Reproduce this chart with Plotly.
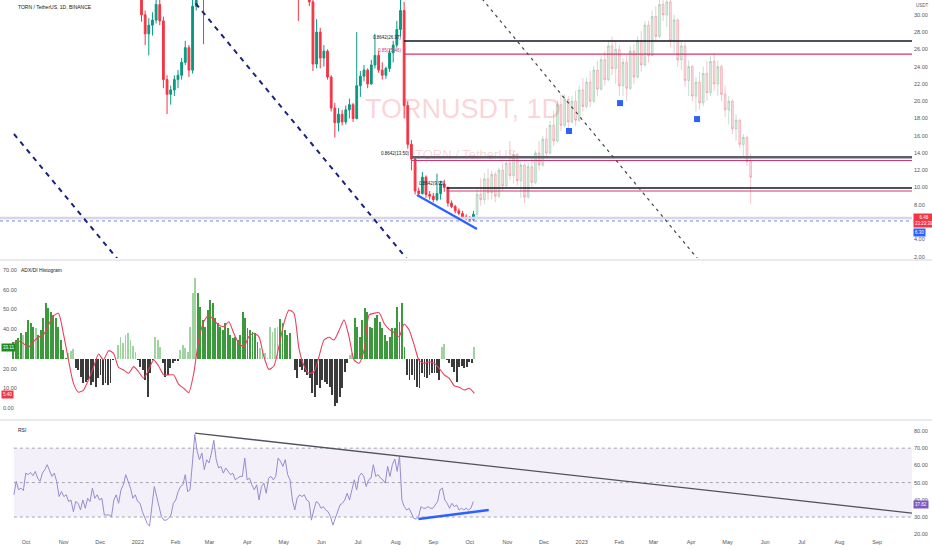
import pandas as pd
import plotly.graph_objects as go

# ---------------- DATA ----------------
# Daily chart shown as 3-day candles
CANDLE_START = "2021-09-21"
CANDLE_STEP = "3D"
OPEN = [43, 44, 47, 49, 48, 52, 55, 54, 57, 56,
        59, 61, 58, 60, 57, 55, 53, 54, 51, 49,
        50, 47, 48, 45, 46, 44, 41, 42, 44, 46,
        43, 42, 40, 38, 36,
        34.5, 30.0, 27.8, 28.8, 29.4, 31.2, 29.3, 22.5, 20.8, 21.3,
        22.5, 23.0, 24.5, 26.2, 23.6, 31.0, 35.0, 34.0,
        33.5, 36, 38, 40, 39, 41, 40, 42, 41, 39,
        40, 42, 41, 40, 38, 39, 40, 38, 39, 41,
        43, 42, 40, 38, 36,
        35.0, 33.5, 34.0, 33.0, 31.5, 24.3, 28.0, 25.0, 25.8, 22.8,
        19.2, 17.5, 18.5, 17.6, 19.0, 19.6, 18.0, 21.8, 22.9, 23.6,
        22.0, 24.2, 25.3, 23.6, 23.0, 23.8, 25.6, 26.5, 28.3, 30.5,
        19.5, 15.0, 13.3, 9.6, 9.3, 11.2, 9.2, 9.0, 8.6, 9.3,
        10.4, 10.0, 8.2, 7.8, 7.3, 7.0, 6.6, 6.5, 6.3]
HIGH = [45.5, 48.5, 50.5, 50.5, 53.5, 56.5, 56.5, 58.5, 58.5, 60.5,
        62.5, 62.5, 61.5, 61.5, 58.5, 56.5, 55.5, 55.5, 52.5, 51.5,
        51.5, 49.5, 49.5, 47.5, 47.5, 45.5, 43.5, 45.5, 47.5, 47.5,
        44.5, 43.5, 41.5, 39.5, 37.5,
        35.0, 30.5, 29.6, 30.3, 32.0, 32.5, 29.8, 23.0, 21.8, 23.0,
        23.6, 25.0, 27.0, 26.5, 32.0, 36.0, 37.0, 35.0,
        37.5, 39.5, 41.5, 41.5, 42.5, 42.5, 43.5, 43.5, 42.5, 41.5,
        43.5, 43.5, 42.5, 41.5, 40.5, 41.5, 41.5, 40.5, 42.5, 44.5,
        44.5, 43.5, 41.5, 39.5, 37.5,
        36.0, 35.0, 35.0, 33.5, 32.0, 29.5, 28.5, 26.5, 26.0, 23.0,
        19.8, 19.2, 19.0, 19.5, 20.3, 19.8, 28.0, 23.5, 24.2, 23.8,
        24.8, 27.8, 25.8, 24.5, 24.0, 26.0, 27.0, 29.3, 32.0, 31.5,
        20.0, 15.5, 13.6, 10.0, 11.8, 11.4, 9.6, 9.4, 11.6, 10.8,
        10.9, 10.1, 8.5, 8.0, 7.6, 7.3, 6.9, 6.7, 7.3]
LOW = [41.5, 42.5, 45.5, 46.5, 46.5, 50.5, 52.5, 52.5, 54.5, 54.5,
       57.5, 56.5, 56.5, 55.5, 53.5, 51.5, 51.5, 49.5, 47.5, 47.5,
       45.5, 45.5, 43.5, 43.5, 42.5, 39.5, 39.5, 40.5, 42.5, 41.5,
       40.5, 38.5, 36.5, 34.5, 33.0,
       29.2, 26.5, 25.3, 27.6, 29.0, 28.8, 21.5, 18.5, 19.6, 20.6,
       21.5, 22.5, 24.2, 22.8, 23.2, 30.5, 33.0, 26.6,
       32.5, 34.5, 36.5, 37.5, 37.5, 38.5, 38.5, 39.5, 37.5, 37.5,
       38.5, 39.5, 38.5, 36.5, 36.5, 37.5, 36.5, 36.5, 37.5, 39.5,
       40.5, 38.5, 36.5, 34.5, 33.5,
       29.3, 32.0, 32.5, 31.0, 23.5, 23.8, 23.8, 24.0, 22.5, 18.8,
       15.8, 16.5, 17.2, 17.3, 18.0, 17.6, 17.9, 20.5, 22.3, 21.5,
       21.9, 23.8, 23.3, 22.5, 22.6, 23.4, 24.5, 26.2, 27.5, 18.0,
       14.5, 12.0, 9.2, 9.0, 9.2, 8.8, 8.6, 8.3, 8.4, 8.6,
       9.5, 7.8, 7.6, 7.0, 6.8, 6.4, 6.2, 6.0, 6.1]
CLOSE = [44, 47, 49, 48, 52, 55, 54, 57, 56, 59,
         61, 58, 60, 57, 55, 53, 54, 51, 49, 50,
         47, 48, 45, 46, 44, 41, 42, 44, 46, 43,
         42, 40, 38, 36, 34.5,
         30.0, 27.8, 28.8, 29.4, 31.2, 29.3, 22.5, 20.8, 21.3, 22.5,
         23.0, 24.5, 26.2, 23.6, 31.0, 35.0, 34.0, 33.5,
         36, 38, 40, 39, 41, 40, 42, 41, 39, 40,
         42, 41, 40, 38, 39, 40, 38, 39, 41, 43,
         42, 40, 38, 36, 35,
         33.5, 34.0, 33.0, 31.5, 24.3, 28.0, 25.0, 25.8, 22.8, 19.2,
         17.5, 18.5, 17.6, 19.0, 19.6, 18.0, 21.8, 22.9, 23.6, 22.0,
         24.2, 25.3, 23.6, 23.0, 23.8, 25.6, 26.5, 28.3, 30.5, 19.5,
         15.0, 13.3, 9.6, 9.3, 11.2, 9.2, 9.0, 8.6, 9.3, 10.4,
         10.0, 8.2, 7.8, 7.3, 7.0, 6.6, 6.5, 6.3, 6.9]

# Projected (ghost) bars pattern
PROJ_START = "2022-10-07"
PROJ_OPEN = [6.9, 9.2, 8.6, 11.0, 9.4, 11.5, 9.0, 12.0, 10.2, 12.8,
             11.4, 13.8, 10.8, 12.6, 8.9, 12.4, 10.6, 14.0, 12.6, 15.6,
             14.0, 17.2, 15.4, 19.6, 17.2, 20.2, 17.6, 20.0, 17.8, 21.3,
             19.4, 22.2, 20.0, 23.6, 21.4, 24.8, 22.5, 26.4, 23.8, 26.0,
             21.8, 24.5, 21.5, 25.8, 22.8, 27.0, 24.2, 28.8, 25.3, 29.8,
             27.5, 31.2, 30.0, 31.5, 27.0, 29.4, 24.8, 26.4, 22.4, 24.0,
             20.6, 22.2, 19.8, 23.2, 21.0, 24.6, 22.0, 24.0, 20.8, 19.0,
             20.0, 16.8, 17.8, 15.0, 15.8, 13.0]
PROJ_HIGH = [9.8, 11.1, 11.7, 12.2, 12.0, 11.8, 12.3, 12.8, 13.1, 15.4,
             14.2, 14.0, 13.2, 12.8, 13.0, 13.6, 14.3, 15.4, 16.0, 16.9,
             17.7, 18.9, 20.1, 20.8, 20.8, 20.6, 20.6, 21.2, 21.8, 22.7,
             22.7, 23.5, 24.1, 24.7, 25.3, 25.8, 27.0, 27.5, 27.0, 26.5,
             25.0, 25.3, 26.4, 26.6, 27.5, 28.1, 29.3, 29.3, 30.5, 31.0,
             32.0, 32.5, 32.3, 31.8, 30.0, 29.6, 27.0, 26.8, 24.7, 24.2,
             22.8, 23.4, 24.0, 24.7, 25.2, 25.6, 24.7, 24.2, 21.8, 20.6,
             20.2, 18.5, 17.9, 16.2, 16.0, 13.9]
PROJ_LOW = [6.6, 7.9, 8.1, 8.5, 8.6, 8.3, 8.8, 9.6, 10.0, 10.8,
            10.5, 10.2, 8.8, 8.2, 8.7, 10.0, 10.4, 12.0, 12.4, 13.4,
            13.8, 14.8, 15.2, 16.5, 17.0, 16.8, 17.4, 17.1, 17.6, 18.8,
            19.2, 19.3, 19.8, 20.6, 21.2, 21.8, 22.3, 23.0, 22.0, 20.6,
            20.6, 20.0, 21.3, 22.0, 22.6, 23.4, 24.0, 24.5, 25.2, 26.8,
            27.3, 29.3, 28.6, 26.2, 25.6, 24.0, 23.6, 21.6, 20.6, 20.0,
            18.8, 19.0, 19.4, 20.0, 20.6, 21.2, 20.6, 20.0, 18.2, 17.3,
            16.2, 15.4, 14.6, 13.6, 12.5, 8.1]
PROJ_CLOSE = [9.2, 8.6, 11.0, 9.4, 11.5, 9.0, 12.0, 10.2, 12.8, 11.4,
              13.8, 10.8, 12.6, 8.9, 12.4, 10.6, 14.0, 12.6, 15.6, 14.0,
              17.2, 15.4, 19.6, 17.2, 20.2, 17.6, 20.0, 17.8, 21.3, 19.4,
              22.2, 20.0, 23.6, 21.4, 24.8, 22.5, 26.4, 23.8, 26.0, 21.8,
              24.5, 21.5, 25.8, 22.8, 27.0, 24.2, 28.8, 25.3, 29.8, 27.5,
              31.2, 30.0, 31.5, 27.0, 29.4, 24.8, 26.4, 22.4, 24.0, 20.6,
              22.2, 19.8, 23.2, 21.0, 24.6, 22.0, 24.0, 20.8, 19.0, 20.0,
              16.8, 17.8, 15.0, 15.8, 13.0, 11.2]

# ADX/DI histogram (bars relative to 25)
HIST_START, HIST_END = "2021-09-20 14:00", "2022-10-04 17:00"
HIST_BASE = 25
HIST_VALUES = [33.7, 34.5, 35.4, 37.9, 37.1, 38.7, 44.7, 43.0, 41.3, 40.4,
               37.1, 39.6, 45.5, 53.1, 50.6, 48.9, 47.2, 45.5, 41.3, 34.5,
               29.4, 25.2, 27.7, 29.0, 29.8,
               20.1, 19.3, 15.9, 12.5, 13.4, 14.2, 11.7, 13.4, 10.8, 15.0,
               16.8, 11.7, 12.5, 11.7, 12.5, 24.4, 24.7,
               32.0, 35.9, 32.8, 37.1, 37.9, 34.5, 31.5, 28.6,
               24.4, 21.0, 19.3, 14.2, 5.4, 17.6, 24.4,
               36.2, 34.5, 30.8,
               22.7, 15.9, 16.8, 20.1, 22.7, 23.9, 24.0,
               29.4, 32.0, 30.3, 28.6, 41.3, 58.2, 65.8,
               58.2, 51.4, 44.7, 41.3, 49.7, 54.8, 53.1, 45.5, 43.0, 41.3,
               39.6, 43.0, 40.4, 37.1, 35.4, 36.2, 34.5, 37.1, 48.9, 45.5,
               40.4, 39.6, 38.7, 37.9, 33.7,
               30.3, 29.4, 27.7, 25.6, 41.3, 38.7, 40.4, 41.3,
               45.0, 43.0, 39.6, 37.1, 37.9,
               24.7, 19.3, 15.0, 21.0, 19.3, 18.4, 16.8, 15.0, 7.4, 5.8, 11.7,
               10.0, 14.2, 13.4, 12.2, 10.8, 6.6, 0.8, 2.4, 5.8, 10.0, 18.4, 22.7,
               26.9, 27.7,
               45.5, 41.3, 36.2, 44.7, 50.6, 48.9, 41.3, 40.4, 45.5, 47.2,
               43.8, 40.4, 37.1, 34.2, 36.2, 40.4, 40.4, 51.4, 43.8, 53.1, 30.8,
               16.8, 14.2, 16.8, 14.2, 10.8, 10.0, 17.6, 15.9, 15.0, 16.8,
               17.6, 17.9, 17.6, 14.2,
               30.8, 32.5,
               24.4, 22.7, 21.0, 18.4, 13.4, 21.0, 21.3, 20.1, 21.0, 23.2, 22.7,
               30.8]
# G = strong up, g = weak up, k = down
HIST_KIND = ("GGGGgGGGGgGGGGGGGGGGGGggg"
             "kkkkkkkkkkkkkkkkk"
             "gggggggg"
             "kkkkkkk"
             "ggg"
             "kkkkkkk"
             "ggggggg"
             "GGGGGGGGGGGGGGGGGGGGGGGGG"
             "gggggggg"
             "GGGGG"
             "kkkkkkkkkkk"
             "kkkkkkkkkkkk"
             "gg"
             "GGGGGGGGGGGGGGGGGGGGG"
             "kkkkkkkkkkkkkk"
             "gg"
             "kkkkkkkkkkk"
             "g")

ADX_VALUES = [32.8, 34.0, 32.8, 30.8, 33.7, 35.9, 37.1, 42.1, 46.7, 48.1,
              37.6, 24.4, 12.5, 8.0, 9.1, 14.2, 20.6, 27.4, 24.4, 29.1,
              27.7, 20.6, 19.3, 17.6, 21.0, 18.4, 15.1, 19.3, 24.4, 21.3,
              16.8, 16.8, 16.8, 12.0, 10.0, 7.8, 17.6, 34.5, 43.8, 47.2,
              44.7, 42.1, 41.3, 43.8, 37.9, 32.8, 31.1, 36.2, 37.9, 36.2,
              26.1, 19.6, 21.3, 31.1, 43.0, 49.7, 48.1, 30.3, 21.5, 17.6,
              18.4, 26.1, 34.5, 35.9, 34.5, 39.3, 44.7, 36.2, 24.4, 22.7,
              29.4, 47.2, 48.1, 48.4, 43.0, 39.9, 38.2, 36.2, 42.6, 39.6,
              32.0, 24.0, 22.7, 23.5, 22.7, 20.1, 16.8, 15.1, 11.3, 10.5,
              9.1, 10.0, 7.4]

RSI_START, RSI_END = "2021-09-21", "2022-10-03 22:00"
RSI_VALUES = [42.9, 50.7, 45.8, 46.8, 45.4, 55.5, 54.6, 55.9, 54.0, 56.5,
              52.6, 50.7, 55.5, 57.5, 60.4, 56.5, 53.6, 55.5, 50.7, 41.9,
              44.8, 41.9, 42.9, 39.0, 39.9, 33.1, 39.0, 38.0, 34.1, 39.9,
              35.1, 40.9, 39.0, 46.8, 40.9, 42.9, 39.9, 40.9, 31.2, 31.2,
              31.2, 30.2, 39.9, 42.9, 38.0, 45.8, 48.7, 54.6, 50.7, 46.8,
              40.9, 42.9, 39.0, 38.0, 33.1, 30.2, 26.3, 24.7, 36.0, 47.7,
              41.9, 36.0, 30.2, 28.2, 28.2, 29.2, 31.2, 38.0, 39.9, 44.8,
              47.7, 48.7, 54.6, 44.8, 45.8, 61.4, 78.0, 68.2, 63.3, 67.2,
              57.5, 63.3, 61.4, 67.2, 74.6, 63.3, 58.5, 59.4, 55.5, 58.5,
              56.5, 54.6, 55.5, 51.6, 52.6, 53.6, 53.6, 64.3, 51.6, 52.6,
              48.7, 45.8, 48.7, 39.9, 47.7, 49.7, 43.8, 52.6, 53.6, 51.6,
              53.6, 64.3, 62.4, 59.4, 63.3, 54.6, 51.6, 39.9, 34.1, 40.9,
              42.9, 41.9, 42.9, 39.9, 39.0, 28.2, 34.1, 39.0, 38.0, 35.1,
              36.0, 34.1, 33.1, 30.2, 25.3, 29.2, 32.1, 37.0, 38.0, 39.9,
              43.8, 39.9, 45.8, 51.6, 45.8, 53.6, 55.5, 53.6, 47.7, 51.6,
              52.6, 60.4, 53.6, 54.6, 52.6, 51.6, 49.7, 59.4, 53.6, 60.4,
              63.7, 56.5, 65.3, 39.9, 36.0, 34.1, 35.1, 32.1, 29.2, 28.8,
              30.2, 36.0, 35.1, 35.1, 36.0, 35.1, 35.1, 37.0, 39.0, 45.8,
              46.8, 39.9, 38.0, 35.1, 38.0, 36.0, 37.0, 34.1, 35.1, 34.1,
              35.1, 34.1, 35.1, 39.0]

# Fib-style horizontal levels
LEVEL_PRICES = [26.97, 25.46, 13.50, 13.13, 9.95, 9.60]
LEVEL_STARTS = ["2022-08-07 22:00", "2022-08-07 22:00", "2022-08-14 05:00",
                "2022-08-14 05:00", "2022-09-12", "2022-09-12"]
LEVEL_LABELS = ["0.8642(26.97)", "0.85(25.46)", "0.8642(13.50)", "", "0.8642(9.95)", ""]
LAST_PRICE = 6.48
MARK_PRICE = 6.13

# Drawings
NAVY_LINE_A_X = ["2022-02-07 02:00", "2022-08-17 19:00"]
NAVY_LINE_A_Y = [33.11, 0.45]
NAVY_LINE_B_X = ["2021-09-21 02:00", "2021-12-21 10:00"]
NAVY_LINE_B_Y = [16.2, 0.68]
GRAY_LINE_X = ["2022-10-03 17:00", "2023-04-14 02:00"]
GRAY_LINE_Y = [33.11, 0.45]
BLUE_LINE_X = ["2022-08-18 14:00", "2022-10-06 22:00"]
BLUE_LINE_Y = [9.14, 5.2]
FLAG_X = ["2022-12-21 14:00", "2023-02-01 14:00", "2023-04-05 22:00"]
FLAG_Y = [16.55, 19.78, 17.93]
RSI_TREND_X = ["2022-02-17", "2023-09-30 07:00"]
RSI_TREND_Y = [78.7, 32.2]
RSI_BLUE_X = ["2022-08-19 17:00", "2022-10-16 14:00"]
RSI_BLUE_Y = [28.8, 34.1]

X_START, X_END = "2021-09-09 14:38", "2023-09-29 17:00"
MONTH_TICKS = ["2021-10-01", "2021-11-01", "2021-12-01", "2022-01-01", "2022-02-01",
               "2022-03-01", "2022-04-01", "2022-05-01", "2022-06-01", "2022-07-01",
               "2022-08-01", "2022-09-01", "2022-10-01", "2022-11-01", "2022-12-01",
               "2023-01-01", "2023-02-01", "2023-03-01", "2023-04-01", "2023-05-01",
               "2023-06-01", "2023-07-01", "2023-08-01", "2023-09-01"]
MONTH_LABELS = ["Oct", "Nov", "Dec", "2022", "Feb", "Mar", "Apr", "May", "Jun", "Jul",
                "Aug", "Sep", "Oct", "Nov", "Dec", "2023", "Feb", "Mar", "Apr", "May",
                "Jun", "Jul", "Aug", "Sep"]
PRICE_TICKS = [2, 4, 8, 10, 12, 14, 16, 18, 20, 22, 24, 26, 28, 30]
PRICE_TICK_TEXT = ["2.00", "4.00", "8.00", "10.00", "12.00", "14.00", "16.00",
                   "18.00", "20.00", "22.00", "24.00", "26.00", "28.00", "30.00"]
ADX_TICKS = [0, 10, 20, 40, 50, 60, 70]
ADX_TICK_TEXT = ["0.00", "10.00", "20.00", "40.00", "50.00", "60.00", "70.00"]
RSI_TICKS = [20, 30, 40, 50, 60, 70, 80]
RSI_TICK_TEXT = ["20.00", "30.00", "40.00", "50.00", "60.00", "70.00", "80.00"]

# ---------------- FIGURE ----------------
FONT = "Liberation Sans Narrow, Liberation Sans, Arial, sans-serif"
W, H = 932, 550
ML, MR, MT, MB = 0, 20, 0, 13
PH = H - MT - MB  # plot height in px
PW = W - ML - MR


def pdom(top_px, bottom_px):
    return [1 - bottom_px / PH, 1 - top_px / PH]


candle_x = pd.date_range(CANDLE_START, periods=len(CLOSE), freq=CANDLE_STEP)
proj_x = pd.date_range(PROJ_START, periods=len(PROJ_CLOSE), freq=CANDLE_STEP)
hist_x = pd.date_range(HIST_START, HIST_END, periods=len(HIST_VALUES))
adx_x = pd.date_range(HIST_START, HIST_END, periods=len(ADX_VALUES))
rsi_x = pd.date_range(RSI_START, RSI_END, periods=len(RSI_VALUES))
assert len(HIST_KIND) == len(HIST_VALUES)

fig = go.Figure()

# ---- main pane ----
fig.add_trace(go.Scatter(x=[X_START, X_END], y=[LAST_PRICE, LAST_PRICE], mode="lines",
                         line=dict(color="#dcd2f0", width=2.5), yaxis="y"))
fig.add_trace(go.Scatter(x=[X_START, X_END], y=[MARK_PRICE, MARK_PRICE], mode="lines",
                         line=dict(color="#6a8ad8", width=1, dash="dot"), yaxis="y"))

fig.add_trace(go.Candlestick(
    x=proj_x, open=PROJ_OPEN, high=PROJ_HIGH, low=PROJ_LOW, close=PROJ_CLOSE,
    increasing=dict(line=dict(color="rgba(110,180,135,0.4)", width=1),
                    fillcolor="rgba(140,200,155,0.3)"),
    decreasing=dict(line=dict(color="rgba(235,110,130,0.4)", width=1),
                    fillcolor="rgba(240,150,165,0.3)"),
    whiskerwidth=0, yaxis="y"))
fig.add_trace(go.Candlestick(
    x=candle_x, open=OPEN, high=HIGH, low=LOW, close=CLOSE,
    increasing=dict(line=dict(color="#089981", width=1), fillcolor="#089981"),
    decreasing=dict(line=dict(color="#f23645", width=1), fillcolor="#f23645"),
    whiskerwidth=0, yaxis="y"))

level_styles = [("#131722", 1.5), ("#d6336c", 1.2), ("#5d606b", 2.5),
                ("#d6336c", 1.2), ("#131722", 1.5), ("#d6336c", 1.2)]
for price, start, (col, wd) in zip(LEVEL_PRICES, LEVEL_STARTS, level_styles):
    fig.add_trace(go.Scatter(x=[start, X_END], y=[price, price], mode="lines",
                             line=dict(color=col, width=wd), yaxis="y"))

fig.add_trace(go.Scatter(x=NAVY_LINE_A_X, y=NAVY_LINE_A_Y, mode="lines",
                         line=dict(color="#1a237e", width=2, dash="5px,5px"), yaxis="y"))
fig.add_trace(go.Scatter(x=NAVY_LINE_B_X, y=NAVY_LINE_B_Y, mode="lines",
                         line=dict(color="#1a237e", width=2, dash="5px,5px"), yaxis="y"))
fig.add_trace(go.Scatter(x=GRAY_LINE_X, y=GRAY_LINE_Y, mode="lines",
                         line=dict(color="#434651", width=1.2, dash="3px,4px"), yaxis="y"))
fig.add_trace(go.Scatter(x=BLUE_LINE_X, y=BLUE_LINE_Y, mode="lines",
                         line=dict(color="#2962ff", width=2.2), yaxis="y"))
fig.add_trace(go.Scatter(x=FLAG_X, y=FLAG_Y, mode="markers",
                         marker=dict(symbol="square", size=6, color="#2962ff"), yaxis="y"))

# ---- ADX/DI pane ----
hist_colors = {"G": "#3c9a3c", "g": "#9fd39f", "k": "#3b3b3b"}
step_ms = (hist_x[1] - hist_x[0]).total_seconds() * 1000
fig.add_trace(go.Bar(x=hist_x, y=[v - HIST_BASE for v in HIST_VALUES], base=HIST_BASE,
                     marker=dict(color=[hist_colors[k] for k in HIST_KIND], line=dict(width=0)),
                     width=step_ms * 0.75, yaxis="y2"))
fig.add_trace(go.Scatter(x=adx_x, y=ADX_VALUES, mode="lines",
                         line=dict(color="#e8415e", width=1.1, shape="spline", smoothing=0.6),
                         yaxis="y2"))

# ---- RSI pane ----
fig.add_trace(go.Scatter(x=rsi_x, y=RSI_VALUES, mode="lines", line=dict(color="#9a8ad0", width=1),
                         yaxis="y3"))
fig.add_trace(go.Scatter(x=RSI_TREND_X, y=RSI_TREND_Y, mode="lines",
                         line=dict(color="#50535e", width=1.3), yaxis="y3"))
fig.add_trace(go.Scatter(x=RSI_BLUE_X, y=RSI_BLUE_Y, mode="lines",
                         line=dict(color="#2962ff", width=2.5), yaxis="y3"))

shapes = [
    dict(type="rect", xref="x", yref="y3", x0=RSI_START, x1=X_END, y0=30, y1=70,
         fillcolor="rgba(126,87,194,0.09)", line=dict(width=0), layer="below"),
]
for lvl in (70, 50, 30):
    shapes.append(dict(type="line", xref="x", yref="y3", x0=RSI_START, x1=X_END, y0=lvl, y1=lvl,
                       line=dict(color="#a3a6af", width=1, dash="dot"), layer="below"))
for sep in (260, 420):
    shapes.append(dict(type="line", xref="paper", yref="paper", x0=0, x1=W / PW,
                       y0=1 - sep / PH, y1=1 - sep / PH, line=dict(color="#e0e3eb", width=1.5)))

tick_font = dict(family=FONT, size=5.5, color="#50535e")
ann = []


def txt(x, y, text, size=6, color="#131722", xanchor="left", bg=None, xref="paper", yref="paper", **kw):
    d = dict(x=x, y=y, xref=xref, yref=yref, text=text, showarrow=False, xanchor=xanchor,
             yanchor="middle", font=dict(family=FONT, size=size, color=color))
    if bg:
        d.update(bgcolor=bg, borderpad=1)
    d.update(kw)
    ann.append(d)


txt(16 / PW, 1 - 7 / PH, "TORN / TetherUS, 1D, BINANCE", size=5)
txt(19 / PW, 1 - 270 / PH, "ADX/DI Histogram", size=5)
txt(16 / PW, 1 - 430 / PH, "RSI", size=5)
txt(914 / PW, 1 - 5 / PH, "USDT", size=4.5, color="#50535e")
# watermark
txt(463 / PW, 1 - 109 / PH, "TORNUSDT, 1D", size=27, color="rgba(242,54,69,0.22)", xanchor="center")
txt(466 / PW, 1 - 155 / PH, "TORN / TetherUS", size=13, color="rgba(242,54,69,0.22)", xanchor="center")
# level labels
for price, start, lab in zip(LEVEL_PRICES, LEVEL_STARTS, LEVEL_LABELS):
    if lab:
        col = "#d6336c" if lab.startswith("0.85(") else "#131722"
        txt(start, price, lab, size=4.5, color=col, xanchor="right", xref="x", yref="y", yshift=4)
# value boxes
txt(912.5 / PW, 1 - 220.5 / PH, "6.48<br>23:23:39", size=4.5, color="white", bg="#f23645")
txt(912.5 / PW, 1 - 233 / PH, "6.30", size=4.5, color="white", bg="#2962ff")
txt(912.5 / PW, 1 - 504 / PH, "37.82", size=4.5, color="white", bg="#7e57c2")
txt(1 / PW, 1 - 347 / PH, "33.11", size=4.5, color="white", bg="#1e8c1e")
txt(1 / PW, 1 - 394 / PH, "5.40", size=4.5, color="white", bg="#f23645")

fig.update_layout(
    width=W, height=H, margin=dict(l=ML, r=MR, t=MT, b=MB, pad=0),
    paper_bgcolor="white", plot_bgcolor="white", showlegend=False, hovermode=False,
    bargap=0, shapes=shapes, annotations=ann,
    xaxis=dict(domain=[0, 1], anchor="y3", range=[X_START, X_END], type="date",
               tickvals=MONTH_TICKS, ticktext=MONTH_LABELS, tickfont=tick_font,
               showgrid=False, zeroline=False, showline=False, ticks="",
               rangeslider=dict(visible=False)),
    yaxis=dict(domain=pdom(0, 258), anchor="x", side="right", range=[1.84, 31.72],
               tickvals=PRICE_TICKS, ticktext=PRICE_TICK_TEXT, tickfont=tick_font,
               ticklabelstandoff=1,
               showgrid=False, zeroline=False, showline=False, ticks=""),
    yaxis2=dict(domain=pdom(262, 418), anchor="x", side="left", range=[-5.08, 74.1],
                tickvals=ADX_TICKS, ticktext=ADX_TICK_TEXT, tickfont=tick_font,
                ticklabelposition="inside", showgrid=False, zeroline=False, showline=False, ticks=""),
    yaxis3=dict(domain=pdom(422, 537), anchor="x", side="right", range=[18.4, 85.2],
                tickvals=RSI_TICKS, ticktext=RSI_TICK_TEXT, tickfont=tick_font,
                ticklabelstandoff=1,
                showgrid=False, zeroline=False, showline=False, ticks=""),
)

fig.write_html("out.html", config={"displayModeBar": False, "staticPlot": True},
               post_script="document.body.style.margin='0px';")
